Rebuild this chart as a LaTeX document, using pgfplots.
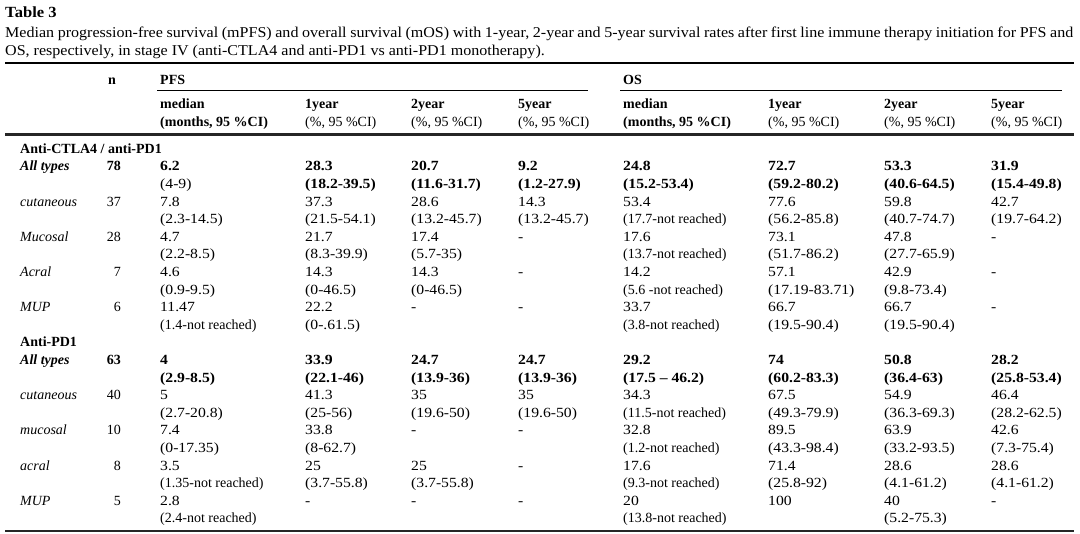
\documentclass[border=0pt]{standalone}
\usepackage{pgfplots}
\pgfplotsset{compat=1.18}
\usepackage{pgfplotstable}
\usepackage{fontspec}
\setmainfont{Liberation Serif}
\newfontfamily\numfont{Liberation Serif}[FakeStretch=1.12]
\newfontfamily\capfont{Liberation Serif}[FakeStretch=1.07]
\newcommand\fs{\fontsize{14}{17}\selectfont}
\newcommand\cs{\capfont\fontsize{15}{18}\selectfont}
\tikzset{
  hb/.style={anchor=base west, inner sep=0pt, font=\fs\bfseries},
  hr/.style={anchor=base west, inner sep=0pt, font=\fs},
}

% bold cells: x (column left edge), y (baseline, px from top), text
\pgfplotstableread[col sep=semicolon, row sep=\\]{
x;y;t\\
160;171.0;6.2\\
305;171.0;28.3\\
411;171.0;20.7\\
518;171.0;9.2\\
623;171.0;24.8\\
768;171.0;72.7\\
884;171.0;53.3\\
991;171.0;31.9\\
305;188.6;(18.2-39.5)\\
411;188.6;(11.6-31.7)\\
518;188.6;(1.2-27.9)\\
623;188.6;(15.2-53.4)\\
768;188.6;(59.2-80.2)\\
884;188.6;(40.6-64.5)\\
991;188.6;(15.4-49.8)\\
160;364.6;4\\
305;364.6;33.9\\
411;364.6;24.7\\
518;364.6;24.7\\
623;364.6;29.2\\
768;364.6;74\\
884;364.6;50.8\\
991;364.6;28.2\\
160;382.2;(2.9-8.5)\\
305;382.2;(22.1-46)\\
411;382.2;(13.9-36)\\
518;382.2;(13.9-36)\\
623;382.2;(17.5 – 46.2)\\
768;382.2;(60.2-83.3)\\
884;382.2;(36.4-63)\\
991;382.2;(25.8-53.4)\\
}\boldcells

% regular numeric cells
\pgfplotstableread[col sep=semicolon, row sep=\\]{
x;y;t\\
160;188.6;(4-9)\\
160;206.2;7.8\\
305;206.2;37.3\\
411;206.2;28.6\\
518;206.2;14.3\\
623;206.2;53.4\\
768;206.2;77.6\\
884;206.2;59.8\\
991;206.2;42.7\\
160;223.8;(2.3-14.5)\\
305;223.8;(21.5-54.1)\\
411;223.8;(13.2-45.7)\\
518;223.8;(13.2-45.7)\\
768;223.8;(56.2-85.8)\\
884;223.8;(40.7-74.7)\\
991;223.8;(19.7-64.2)\\
160;241.4;4.7\\
305;241.4;21.7\\
411;241.4;17.4\\
518;241.4;-\\
623;241.4;17.6\\
768;241.4;73.1\\
884;241.4;47.8\\
991;241.4;-\\
160;259.0;(2.2-8.5)\\
305;259.0;(8.3-39.9)\\
411;259.0;(5.7-35)\\
768;259.0;(51.7-86.2)\\
884;259.0;(27.7-65.9)\\
160;276.6;4.6\\
305;276.6;14.3\\
411;276.6;14.3\\
518;276.6;-\\
623;276.6;14.2\\
768;276.6;57.1\\
884;276.6;42.9\\
991;276.6;-\\
160;294.2;(0.9-9.5)\\
305;294.2;(0-46.5)\\
411;294.2;(0-46.5)\\
768;294.2;(17.19-83.71)\\
884;294.2;(9.8-73.4)\\
160;311.8;11.47\\
305;311.8;22.2\\
411;311.8;-\\
518;311.8;-\\
623;311.8;33.7\\
768;311.8;66.7\\
884;311.8;66.7\\
991;311.8;-\\
305;329.4;(0-.61.5)\\
768;329.4;(19.5-90.4)\\
884;329.4;(19.5-90.4)\\
160;399.8;5\\
305;399.8;41.3\\
411;399.8;35\\
518;399.8;35\\
623;399.8;34.3\\
768;399.8;67.5\\
884;399.8;54.9\\
991;399.8;46.4\\
160;417.4;(2.7-20.8)\\
305;417.4;(25-56)\\
411;417.4;(19.6-50)\\
518;417.4;(19.6-50)\\
768;417.4;(49.3-79.9)\\
884;417.4;(36.3-69.3)\\
991;417.4;(28.2-62.5)\\
160;435.0;7.4\\
305;435.0;33.8\\
411;435.0;-\\
518;435.0;-\\
623;435.0;32.8\\
768;435.0;89.5\\
884;435.0;63.9\\
991;435.0;42.6\\
160;452.6;(0-17.35)\\
305;452.6;(8-62.7)\\
768;452.6;(43.3-98.4)\\
884;452.6;(33.2-93.5)\\
991;452.6;(7.3-75.4)\\
160;470.2;3.5\\
305;470.2;25\\
411;470.2;25\\
518;470.2;-\\
623;470.2;17.6\\
768;470.2;71.4\\
884;470.2;28.6\\
991;470.2;28.6\\
305;487.8;(3.7-55.8)\\
411;487.8;(3.7-55.8)\\
768;487.8;(25.8-92)\\
884;487.8;(4.1-61.2)\\
991;487.8;(4.1-61.2)\\
160;505.4;2.8\\
305;505.4;-\\
411;505.4;-\\
518;505.4;-\\
623;505.4;20\\
768;505.4;100\\
884;505.4;40\\
991;505.4;-\\
884;523.0;(5.2-75.3)\\
}\regcells

% regular cells with words
\pgfplotstableread[col sep=semicolon, row sep=\\]{
x;y;t\\
623;223.8;(17.7-not reached)\\
623;259.0;(13.7-not reached)\\
623;294.2;(5.6 -not reached)\\
160;329.4;(1.4-not reached)\\
623;329.4;(3.8-not reached)\\
623;417.4;(11.5-not reached)\\
623;452.6;(1.2-not reached)\\
160;487.8;(1.35-not reached)\\
623;487.8;(9.3-not reached)\\
160;523.0;(2.4-not reached)\\
623;523.0;(13.8-not reached)\\
}\nrcells

% n column (right aligned)
\pgfplotstableread[col sep=semicolon, row sep=\\]{
x;y;t\\
121;206.2;37\\
121;241.4;28\\
121;276.6;7\\
121;311.8;6\\
121;399.8;40\\
121;435.0;10\\
121;470.2;8\\
121;505.4;5\\
}\ncells
\pgfplotstableread[col sep=semicolon, row sep=\\]{
x;y;t\\
121;171.0;78\\
121;364.6;63\\
}\nboldcells

% row labels (italic)
\pgfplotstableread[col sep=semicolon, row sep=\\]{
x;y;t\\
20;206.2;cutaneous\\
20;241.4;Mucosal\\
20;276.6;Acral\\
20;311.8;MUP\\
20;399.8;cutaneous\\
20;435.0;mucosal\\
20;470.2;acral\\
20;505.4;MUP\\
}\rowlabels

\begin{document}
\begin{tikzpicture}
\begin{axis}[
  width=1080pt, height=534pt, scale only axis,
  xmin=0, xmax=1080, ymin=0, ymax=534, y dir=reverse,
  axis line style={draw=none}, xtick=\empty, ytick=\empty,
  clip=false,
  txt/.style={draw=none, mark=none, nodes near coords,
    point meta=explicit symbolic},
]
% rules
\addplot[black, line width=1.3pt] coordinates {(5,63) (1074,63)};
\addplot[black, line width=0.8pt] coordinates {(157,90) (588,90)};
\addplot[black, line width=0.8pt] coordinates {(620,90) (1062,90)};
\addplot[black!85, line width=2.8pt] coordinates {(5,134.5) (1074,134.5)};
\addplot[black!85, line width=2.8pt] coordinates {(5,531) (1074,531)};

% cells
\addplot[txt, nodes near coords style={anchor=base west, inner sep=0pt, font=\fs\numfont\bfseries}]
  table[x=x, y=y, meta=t] {\boldcells};
\addplot[txt, nodes near coords style={anchor=base west, inner sep=0pt, font=\fs\numfont}]
  table[x=x, y=y, meta=t] {\regcells};
\addplot[txt, nodes near coords style={anchor=base west, inner sep=0pt, font=\fs}]
  table[x=x, y=y, meta=t] {\nrcells};
\addplot[txt, nodes near coords style={anchor=base east, inner sep=0pt, font=\fs}]
  table[x=x, y=y, meta=t] {\ncells};
\addplot[txt, nodes near coords style={anchor=base east, inner sep=0pt, font=\fs\bfseries}]
  table[x=x, y=y, meta=t] {\nboldcells};
\addplot[txt, nodes near coords style={anchor=base west, inner sep=0pt, font=\fs\itshape}]
  table[x=x, y=y, meta=t] {\rowlabels};

% title and caption
\node[anchor=base west, inner sep=0pt, font=\capfont\fontsize{15.5}{18}\selectfont\bfseries] at (axis cs:5,18) {Table 3};
\node[anchor=base west, inner sep=0pt, font=\cs] at (axis cs:5,37.5) {\makebox[1068pt][s]{Median progression-free survival (mPFS) and overall survival (mOS) with 1-year, 2-year and 5-year survival rates after first line immune therapy initiation for PFS and}};
\node[anchor=base west, inner sep=0pt, font=\cs] at (axis cs:5,55.5) {OS, respectively, in stage IV (anti-CTLA4 and anti-PD1 vs anti-PD1 monotherapy).};

% header
\node[anchor=base, inner sep=0pt, font=\fs\bfseries] at (axis cs:112,84.5) {n};
\node[hb] at (axis cs:160,84.5) {PFS};
\node[hb] at (axis cs:623,84.5) {OS};
\node[hb] at (axis cs:160,109) {median};
\node[hb] at (axis cs:160,126.5) {(months, 95 \%CI)};
\node[hb] at (axis cs:623,109) {median};
\node[hb] at (axis cs:623,126.5) {(months, 95 \%CI)};
\node[hb] at (axis cs:305,109) {1year};
\node[hb] at (axis cs:411,109) {2year};
\node[hb] at (axis cs:518,109) {5year};
\node[hb] at (axis cs:768,109) {1year};
\node[hb] at (axis cs:884,109) {2year};
\node[hb] at (axis cs:991,109) {5year};
\node[hr] at (axis cs:305,126.5) {(\%, 95 \%CI)};
\node[hr] at (axis cs:411,126.5) {(\%, 95 \%CI)};
\node[hr] at (axis cs:518,126.5) {(\%, 95 \%CI)};
\node[hr] at (axis cs:768,126.5) {(\%, 95 \%CI)};
\node[hr] at (axis cs:884,126.5) {(\%, 95 \%CI)};
\node[hr] at (axis cs:991,126.5) {(\%, 95 \%CI)};

% group headers and bold row labels
\node[hb] at (axis cs:20,153.4) {Anti-CTLA4 / anti-PD1};
\node[anchor=base west, inner sep=0pt, font=\fs\bfseries\itshape] at (axis cs:20,171.0) {All types};
\node[hb] at (axis cs:20,347.0) {Anti-PD1};
\node[anchor=base west, inner sep=0pt, font=\fs\bfseries\itshape] at (axis cs:20,364.6) {All types};
\end{axis}
\end{tikzpicture}
\end{document}
